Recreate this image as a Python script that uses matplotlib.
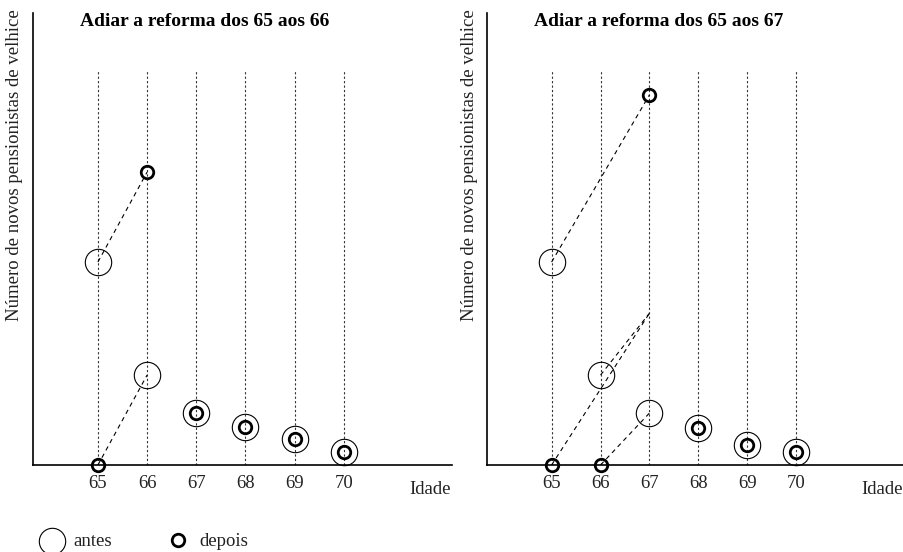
import matplotlib.pyplot as plt
from matplotlib.lines import Line2D

# Data (arbitrary units)
ages = [65, 66, 67, 68, 69, 70]

antes_66 = [44.9, 19.9, 11.5, 8.4, 5.8, 2.9]
depois_66 = [0.0, 64.8, 11.5, 8.4, 5.8, 2.9]

antes_67 = [44.9, 19.9, 11.5, 8.1, 4.4, 2.9]
depois_67 = [0.0, 0.0, 81.9, 8.1, 4.4, 2.9]

# shifted flows drawn as dashed links: (age from, value from, age to, value to)
links_66 = [(65, 44.9, 66, 64.8), (65, 0.0, 66, 19.9)]
links_67 = [(65, 44.9, 67, 81.9), (65, 0.0, 67, 33.6),
            (66, 19.9, 67, 33.6), (66, 0.0, 67, 11.5)]

titles = ["Adiar a reforma dos 65 aos 66", "Adiar a reforma dos 65 aos 67"]
ylabel = "Número de novos pensionistas de velhice"
guide_top = 87.4

plt.rcParams['font.family'] = ['Liberation Serif', 'DejaVu Serif']

fig = plt.figure(figsize=(9.04, 5.52), dpi=100)
ax1 = fig.add_axes([33 / 904, 87 / 552, 419 / 904, 452 / 552])
ax2 = fig.add_axes([487 / 904, 87 / 552, 417 / 904, 452 / 552])

panels = [(ax1, antes_66, depois_66, links_66, titles[0], 80),
          (ax2, antes_67, depois_67, links_67, titles[1], 534)]

for ax, antes, depois, links, title, tx in panels:
    ax.set_xlim(63.68, 72.2)
    ax.set_ylim(0, 100)
    for a in ages:
        ax.plot([a, a], [0, guide_top], color='#333333', lw=0.8,
                ls=(0, (2, 2)), zorder=1)
    for x0, y0, x1, y1 in links:
        ax.plot([x0, x1], [y0, y1], color='black', lw=0.8,
                ls=(0, (4, 3.5)), zorder=2)
    ax.plot(ages, antes, ls='none', marker='o', ms=19, mfc='none',
            mec='black', mew=0.8, zorder=3, clip_on=False)
    ax.plot(ages, depois, ls='none', marker='o', ms=9, mfc='none',
            mec='black', mew=2.0, zorder=4, clip_on=False)
    for s in ['top', 'right']:
        ax.spines[s].set_visible(False)
    for s in ['left', 'bottom']:
        ax.spines[s].set_linewidth(1.2)
    ax.set_xticks(ages)
    ax.set_xticklabels([str(a) for a in ages], fontsize=13.5)
    ax.tick_params(axis='x', length=0, pad=7, colors='#222222')
    ax.set_yticks([])
    ax.text(71.75, -3.6, "Idade", fontsize=13.5, ha='center', va='top',
            color='#222222')
    fig.text(tx / 904, 1 - 21 / 552, title, fontsize=14, fontweight='bold',
             ha='left', va='center')
    ax_left = ax.get_position().x0
    fig.text(ax_left - 18 / 904, 1 - 9 / 552, ylabel, fontsize=13.5,
             rotation=90, ha='center', va='top', color='#222222')

# legend drawn by hand in figure coordinates
fig.add_artist(Line2D([52 / 904], [1 - 541 / 552], ls='none', marker='o',
                      ms=19, mfc='none', mec='black', mew=0.8))
fig.text(73 / 904, 1 - 541 / 552, "antes", fontsize=13.5, ha='left',
         va='center', color='#222222')
fig.add_artist(Line2D([178 / 904], [1 - 540 / 552], ls='none', marker='o',
                      ms=9, mfc='none', mec='black', mew=2.0))
fig.text(199 / 904, 1 - 541 / 552, "depois", fontsize=13.5, ha='left',
         va='center', color='#222222')

fig.savefig('out.png', dpi=100)
